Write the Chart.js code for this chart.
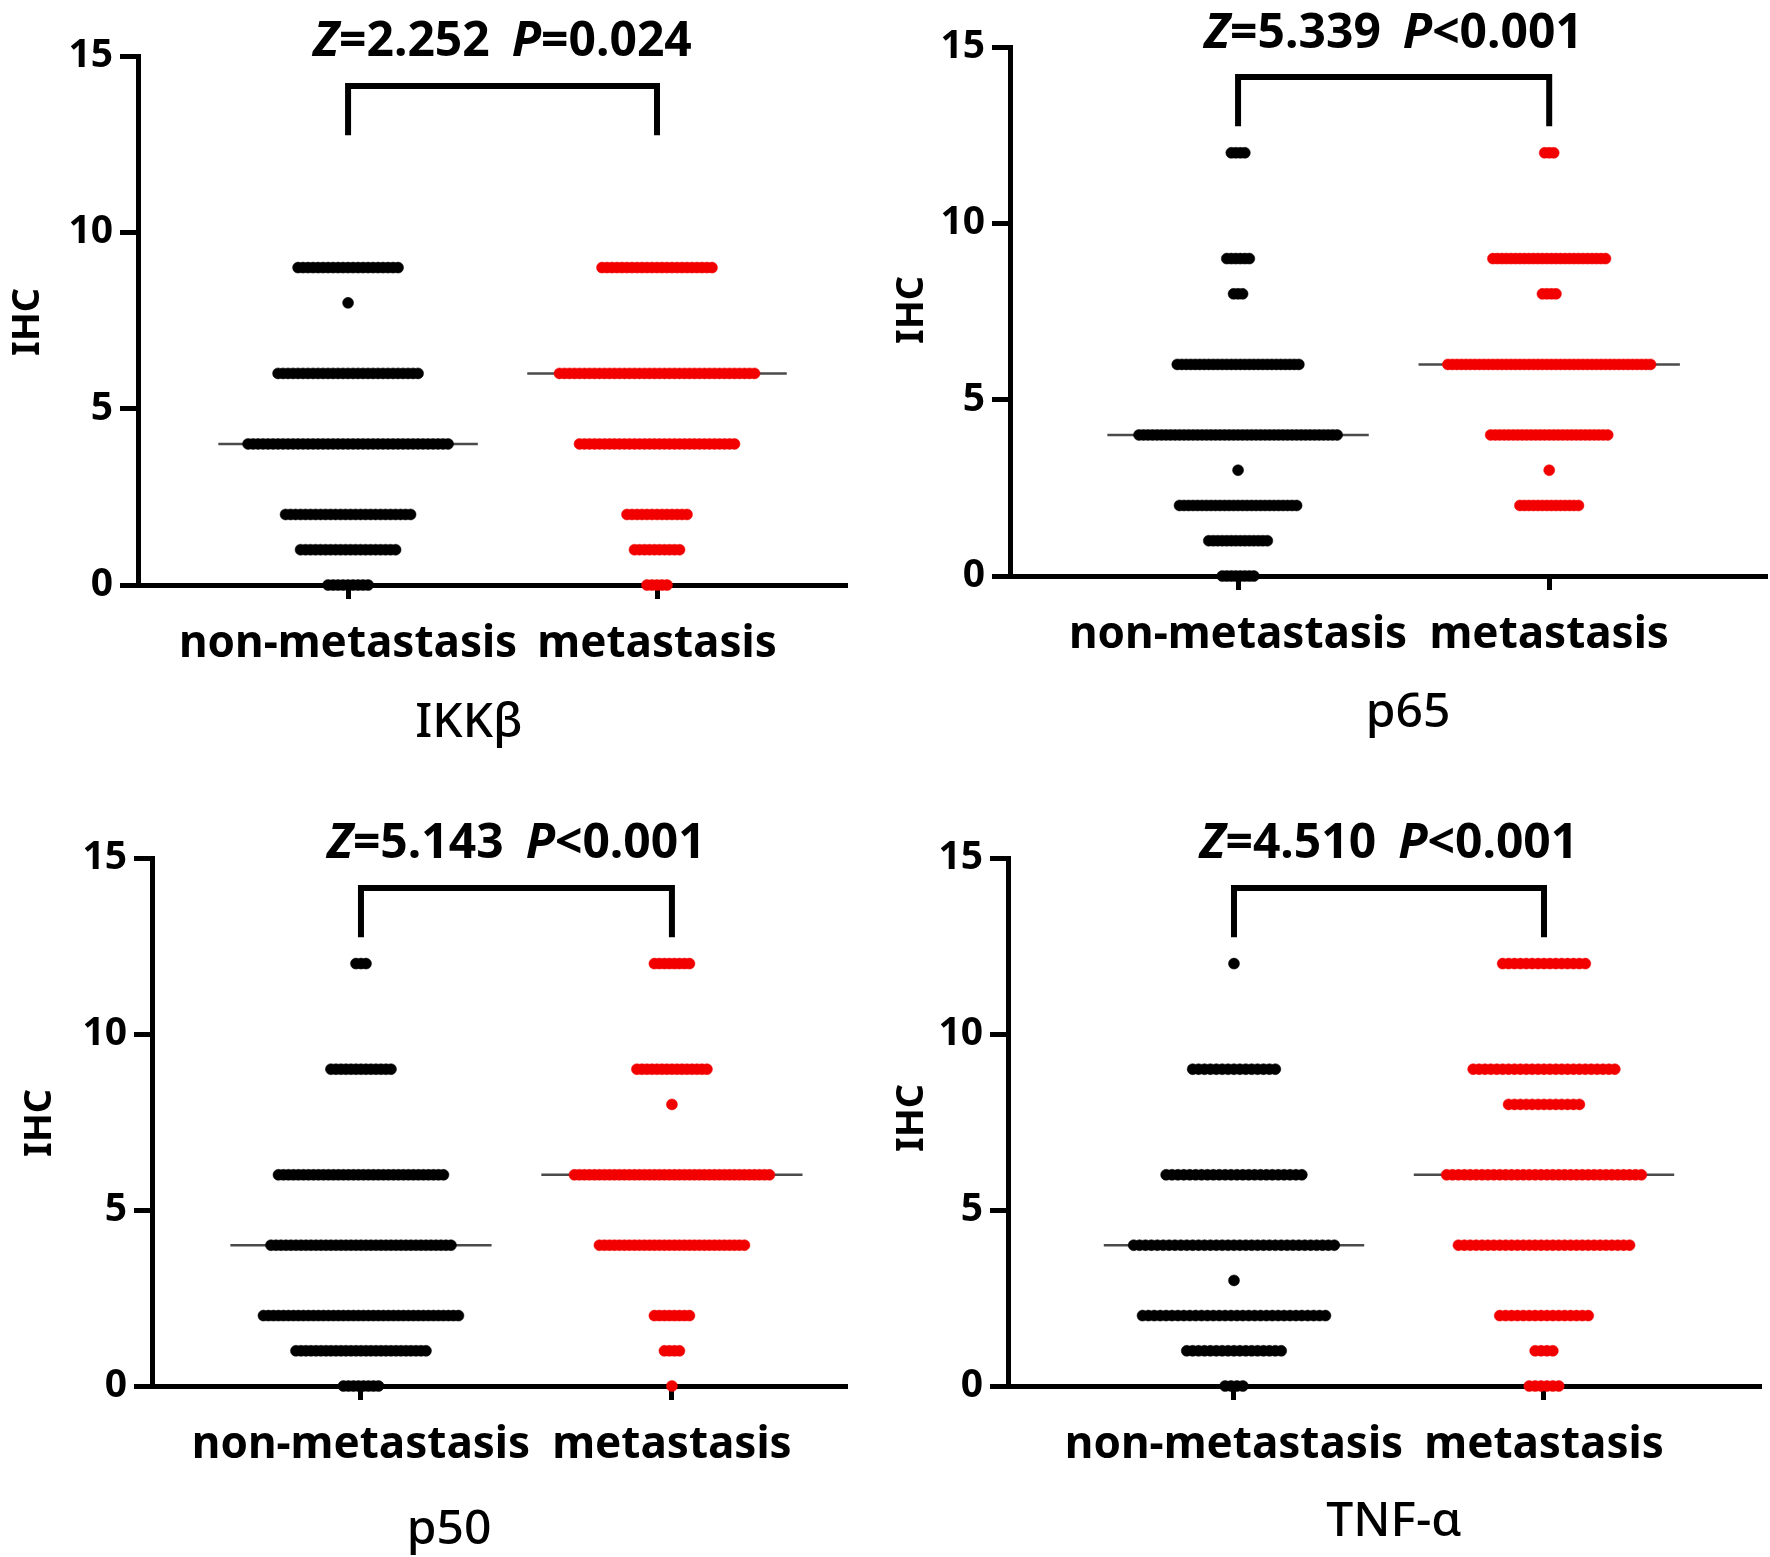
<!DOCTYPE html>
<html>
<head>
<meta charset="utf-8">
<script src="https://cdn.jsdelivr.net/npm/chart.js@4.4.1/dist/chart.umd.min.js"></script>
<style>
  html, body { margin: 0; padding: 0; background: #fff; }
  #wrap { position: relative; width: 1770px; height: 1557px; overflow: hidden; }
  canvas { position: absolute; }
</style>
</head>
<body>
<div id="wrap">
  <canvas id="c0" width="885" height="779" style="left:0;top:0"></canvas>
  <canvas id="c1" width="885" height="779" style="left:885px;top:0"></canvas>
  <canvas id="c2" width="885" height="778" style="left:0;top:779px"></canvas>
  <canvas id="c3" width="885" height="778" style="left:885px;top:779px"></canvas>
</div>
<script>
// groups and markers
const groups = ["non-metastasis", "metastasis"];
const markers = ["IKKβ", "p65", "p50", "TNF-α"];
const yTicks = [0, 5, 10, 15];

// IHC score levels, and how many cases sit on each level
const ihcLevels = [0, 1, 2, 3, 4, 6, 8, 9, 12];
const ikkNon = [9, 20, 26, 0, 41, 29, 1, 21, 0];
const ikkMet = [5, 10, 13, 0, 32, 40, 0, 23, 0];
const p65Non = [8, 14, 27, 1, 45, 28, 3, 6, 4];
const p65Met = [0, 0, 14, 1, 27, 46, 4, 26, 3];
const p50Non = [8, 27, 40, 0, 37, 34, 0, 13, 3];
const p50Met = [1, 4, 8, 0, 30, 40, 1, 15, 8];
const tnfNon = [4, 17, 32, 1, 35, 24, 0, 15, 1];
const tnfMet = [6, 4, 16, 0, 30, 34, 13, 25, 15];

// test results
const zStats = ["2.252", "5.339", "5.143", "4.510"];
const pStats = ["=0.024", "<0.001", "<0.001", "<0.001"];

const nonCounts = [ikkNon, p65Non, p50Non, tnfNon];
const metCounts = [ikkMet, p65Met, p50Met, tnfMet];

// layout of each panel (canvas coords)
const panels = [
  { w: 885, h: 779, area: { l: 138, r: 847, t: 56, b: 585 }, xMin: -0.680, xMax: 1.615, unit: 309, step: 5.0, annoY: 42, sub: { x: 469, y: 723 }, ihc: { x: 28, y: 322 } },
  { w: 885, h: 779, area: { l: 125, r: 882, t: 47, b: 576 }, xMin: -0.733, xMax: 1.700, unit: 311, step: 4.5, annoY: 34, sub: { x: 523, y: 713 }, ihc: { x: 27, y: 310 } },
  { w: 885, h: 778, area: { l: 152, r: 847, t: 79, b: 607 }, xMin: -0.672, xMax: 1.563, unit: 311, step: 5.0, annoY: 65, sub: { x: 449, y: 751 }, ihc: { x: 40, y: 344 } },
  { w: 885, h: 778, area: { l: 123, r: 876, t: 79, b: 607 }, xMin: -0.729, xMax: 1.700, unit: 310, step: 5.9, annoY: 65, sub: { x: 509, y: 743 }, ihc: { x: 27, y: 339 } }
];

const FONT = "'Noto Sans', 'DejaVu Sans', sans-serif";
const RED = "#f20000";
const bracketTop = 14.15;
const bracketBottom = 12.75;
const medianHalf = 0.42;

function expand(counts, cat, stepUnits) {
  const pts = [];
  ihcLevels.forEach((v, i) => {
    const n = counts[i];
    for (let k = 0; k < n; k++) {
      pts.push({ x: cat + (k - (n - 1) / 2) * stepUnits, y: v });
    }
  });
  return pts;
}

function median(counts) {
  const vals = [];
  ihcLevels.forEach((v, i) => { for (let k = 0; k < counts[i]; k++) vals.push(v); });
  const m = Math.floor(vals.length / 2);
  return vals.length % 2 ? vals[m] : (vals[m - 1] + vals[m]) / 2;
}

// free text: stats, marker name, y title
const textPlugin = {
  id: "panelText",
  afterDraw(chart) {
    const idx = chart.options.panelIndex;
    const p = panels[idx];
    const ctx = chart.ctx;
    ctx.save();
    ctx.fillStyle = "#000";
    ctx.textBaseline = "middle";

    // Z=...  P=...
    const parts = [
      ["italic bold", "Z", 0], ["bold", "=" + zStats[idx], 22],
      ["italic bold", "P", 0], ["bold", pStats[idx], 0]
    ];
    let total = 0;
    parts.forEach(([st, t, gap]) => { ctx.font = st + " 48px " + FONT; total += ctx.measureText(t).width + gap; });
    let x = chart.scales.x.getPixelForValue(0.5) - total / 2;
    ctx.textAlign = "left";
    parts.forEach(([st, t, gap]) => {
      ctx.font = st + " 48px " + FONT;
      ctx.fillText(t, x, p.annoY);
      x += ctx.measureText(t).width + gap;
    });

    // marker name
    ctx.textAlign = "center";
    ctx.font = "500 48px " + FONT;
    ctx.fillText(markers[idx], p.sub.x, p.sub.y);

    // IHC
    ctx.translate(p.ihc.x, p.ihc.y);
    ctx.rotate(-Math.PI / 2);
    ctx.font = "bold 38px " + FONT;
    ctx.fillText("IHC", 0, 0);
    ctx.restore();
  }
};

panels.forEach((p, idx) => {
  const stepUnits = p.step / p.unit;
  const nonPts = expand(nonCounts[idx], 0, stepUnits);
  const metPts = expand(metCounts[idx], 1, stepUnits);
  const mNon = median(nonCounts[idx]);
  const mMet = median(metCounts[idx]);

  const ctx = document.getElementById("c" + idx).getContext("2d");
  new Chart(ctx, {
    type: "scatter",
    data: {
      datasets: [
        {
          type: "line", order: 2, clip: false,
          data: [{ x: -medianHalf, y: mNon }, { x: medianHalf, y: mNon }],
          borderColor: "#4a4a4a", borderWidth: 2.5, pointRadius: 0
        },
        {
          type: "line", order: 2, clip: false,
          data: [{ x: 1 - medianHalf, y: mMet }, { x: 1 + medianHalf, y: mMet }],
          borderColor: "#4a4a4a", borderWidth: 2.5, pointRadius: 0
        },
        {
          type: "line", order: 1, clip: false,
          data: [{ x: 0, y: bracketBottom }, { x: 0, y: bracketTop }, { x: 1, y: bracketTop }, { x: 1, y: bracketBottom }],
          borderColor: "#000", borderWidth: 6, pointRadius: 0, borderJoinStyle: "miter", tension: 0
        },
        {
          order: 0, clip: false, data: nonPts,
          pointRadius: 5.5, pointBackgroundColor: "#000", pointBorderColor: "#000", pointBorderWidth: 0.5
        },
        {
          order: 0, clip: false, data: metPts,
          pointRadius: 5.5, pointBackgroundColor: RED, pointBorderColor: RED, pointBorderWidth: 0.5
        }
      ]
    },
    options: {
      panelIndex: idx,
      responsive: false,
      animation: false,
      devicePixelRatio: 1,
      layout: { autoPadding: false, padding: { left: 0, top: p.area.t, right: p.w - p.area.r, bottom: 0 } },
      plugins: { legend: { display: false }, tooltip: { enabled: false } },
      scales: {
        x: {
          type: "linear", min: p.xMin, max: p.xMax,
          afterBuildTicks: (s) => { s.ticks = [{ value: 0 }, { value: 1 }]; },
          afterFit: (s) => { s.height = p.h - p.area.b; },
          grid: { drawOnChartArea: false, drawTicks: true, tickLength: 14, tickWidth: 5, tickColor: "#000" },
          border: { color: "#000", width: 5 },
          ticks: {
            autoSkip: false, maxRotation: 0, padding: 19, color: "#000",
            font: { family: FONT, size: 44, weight: "bold" },
            callback: (v) => groups[v]
          }
        },
        y: {
          min: 0, max: 15,
          afterBuildTicks: (s) => { s.ticks = yTicks.map(v => ({ value: v })); },
          afterFit: (s) => { s.width = p.area.l; },
          grid: { drawOnChartArea: false, drawTicks: true, tickLength: 18, tickWidth: 5, tickColor: "#000" },
          border: { color: "#000", width: 5 },
          ticks: { padding: 7, color: "#000", font: { family: FONT, size: 39, weight: "bold" } }
        }
      }
    },
    plugins: [textPlugin]
  });
});
</script>
</body>
</html>
